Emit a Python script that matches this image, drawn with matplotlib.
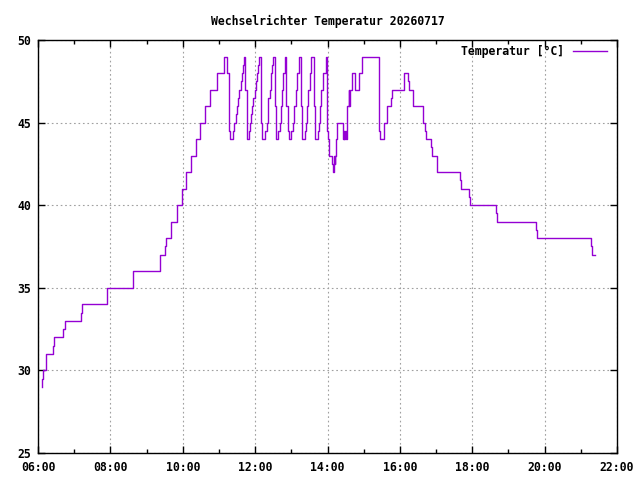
import matplotlib
matplotlib.use("Agg")
import matplotlib.pyplot as plt
from matplotlib.ticker import MultipleLocator, FixedLocator

# readings (steps: value holds until next timestamp)
times = [
    "06:06", "06:07", "06:09", "06:14", "06:25", "06:27", "06:42", "06:44",
    "07:12", "07:13", "07:54", "08:38", "09:22", "09:23", "09:31", "09:32",
    "09:41", "09:50", "09:59", "10:05", "10:13", "10:22", "10:29", "10:37",
    "10:46", "10:56", "11:08",
    "11:14", "11:16", "11:17", "11:18",
    "11:24", "11:25", "11:28", "11:30", "11:32", "11:34", "11:36", "11:38", "11:40", "11:42",
    "11:44", "11:46", "11:47",
    "11:50", "11:51", "11:53", "11:55", "11:57", "11:59", "12:01", "12:03", "12:05", "12:07",
    "12:10", "12:11",
    "12:17", "12:19", "12:21", "12:22", "12:25", "12:26", "12:28", "12:30",
    "12:33", "12:34", "12:35",
    "12:38", "12:41", "12:43", "12:44", "12:47", "12:50",
    "12:52", "12:54", "12:56",
    "13:00", "13:02", "13:04", "13:07", "13:10", "13:13",
    "13:16", "13:17",
    "13:22", "13:24", "13:26", "13:28", "13:31", "13:33",
    "13:37", "13:39",
    "13:44", "13:46", "13:48", "13:50", "13:53", "13:57",
    "13:59", "14:00", "14:02",
    "14:08", "14:09", "14:10", "14:11", "14:12", "14:13", "14:14", "14:16",
    "14:25", "14:26", "14:27", "14:28", "14:29", "14:30", "14:32",
    "14:35", "14:36", "14:37", "14:38", "14:41", "14:46", "14:53", "14:58",
    "15:25", "15:27", "15:34", "15:38", "15:46", "15:47",
    "16:07", "16:14", "16:15", "16:22", "16:39", "16:41", "16:43", "16:52", "16:54",
    "17:02", "17:40", "17:42", "17:55", "17:57",
    "18:40", "18:41", "19:46", "19:48", "21:17", "21:19", "21:23",
]
temps = [
    29, 29.5, 30, 31, 31.5, 32, 32.5, 33,
    33.5, 34, 35, 36, 36.5, 37, 37.5, 38,
    39, 40, 41, 42, 43, 44, 45, 46,
    47, 48, 49,
    48, 45.5, 44.5, 44,
    44.5, 45, 45.5, 46, 46.5, 47, 47.5, 48, 48.5, 49,
    47, 44.5, 44,
    44.5, 45, 45.5, 46, 46.5, 47, 47.5, 48, 48.5, 49,
    45, 44,
    44.5, 45, 45.5, 46.5, 47, 48, 48.5, 49,
    46, 44.5, 44,
    44.5, 45, 46, 47, 48, 49,
    46, 44.5, 44,
    44.5, 45, 46, 47, 48, 49,
    46, 44,
    44.5, 45, 46, 47, 48, 49,
    46, 44,
    44.5, 45, 46, 47, 48, 49,
    44.5, 44, 43,
    42.5, 42, 42.5, 43, 42.5, 43, 44, 45,
    44.5, 44, 44.5, 44, 44.5, 44, 46,
    47, 46, 47, 47, 48, 47, 48, 49,
    44.5, 44, 45, 46, 46.5, 47,
    48, 47.5, 47, 46, 45, 44.5, 44, 43.5, 43,
    42, 41.5, 41, 40.5, 40,
    39.5, 39, 38.5, 38, 37.5, 37, 37,
]
hours = [int(t[:2]) + int(t[3:]) / 60 for t in times]

xtick_pos = [6, 8, 10, 12, 14, 16, 18, 20, 22]
xtick_lab = ["06:00", "08:00", "10:00", "12:00", "14:00", "16:00", "18:00", "20:00", "22:00"]

purple = "#9400d3"
font = dict(family="DejaVu Sans Mono", weight="bold", size=8.3)

fig = plt.figure(figsize=(6.4, 4.8), dpi=100)
ax = fig.add_axes([38 / 640, 1 - 453 / 480, (617 - 38) / 640, (453 - 40) / 480])

ax.plot(hours, temps, drawstyle="steps-post", color=purple, lw=1.0, label="Temperatur [°C]")

ax.set_xlim(6, 22)
ax.set_ylim(25, 50)
ax.xaxis.set_major_locator(FixedLocator(xtick_pos))
ax.set_xticklabels(xtick_lab, **font)
ax.xaxis.set_minor_locator(MultipleLocator(1))
ax.yaxis.set_major_locator(MultipleLocator(5))
for lab in ax.get_yticklabels():
    lab.set_fontproperties(dict(family="DejaVu Sans Mono", weight="bold", size=8.3))

ax.tick_params(which="both", direction="in", top=True, right=True, width=1, color="black")
ax.tick_params(which="major", length=5, pad=6)
ax.tick_params(which="minor", length=3)
ax.tick_params(axis="y", pad=5)
for s in ax.spines.values():
    s.set_linewidth(1)

ax.grid(True, which="major", color="#a0a0a0", linestyle=(0, (1.5, 2.5)), linewidth=0.8)

ax.set_title("Wechselrichter Temperatur 20260717", pad=11, **font)

leg = ax.legend(loc="upper right", bbox_to_anchor=(1.0, 1.012), frameon=False,
                markerfirst=False, handlelength=2.9, handletextpad=0.8,
                prop=dict(family="DejaVu Sans Mono", weight="bold", size=8.3))

fig.savefig("out.png", dpi=100)
